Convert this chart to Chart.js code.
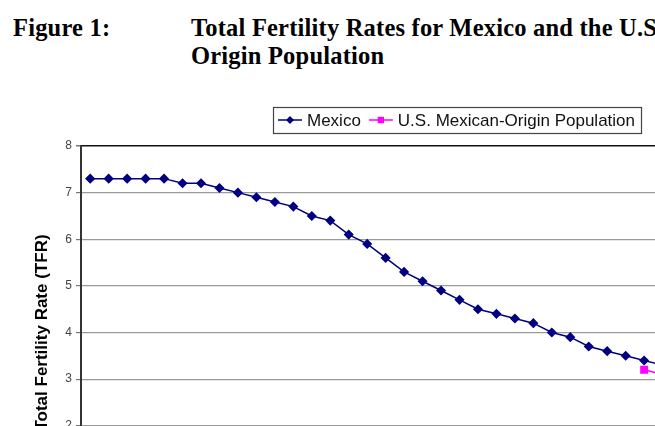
<!DOCTYPE html>
<html>
<head>
<meta charset="utf-8">
<script src="https://cdn.jsdelivr.net/npm/chart.js@4/dist/chart.umd.min.js"></script>
<style>
  html, body { margin: 0; padding: 0; background: #fff; }
  #page { position: relative; width: 655px; height: 426px; overflow: hidden; }
  .cap { position: absolute; white-space: nowrap; font-family: "Liberation Serif", "Times New Roman", serif;
         font-weight: bold; font-size: 24.5px; line-height: 28px; letter-spacing: 0.2px; color: #000; }
  #chart { position: absolute; left: 0; top: 0; }
</style>
</head>
<body>
<div id="page">
  <div class="cap" style="left:13px; top:14px;">Figure 1:</div>
  <div class="cap" style="left:191px; top:14px;">Total Fertility Rates for Mexico and the U.S. Mexican-<br>Origin Population</div>
  <canvas id="chart" width="850" height="560"></canvas>
</div>
<script>
// years on the category axis (the axis itself is below the visible crop)
const years = ['1960','1961','1962','1963','1964','1965','1966','1967','1968','1969',
  '1970','1971','1972','1973','1974','1975','1976','1977','1978','1979',
  '1980','1981','1982','1983','1984','1985','1986','1987','1988','1989',
  '1990','1991','1992','1993','1994','1995','1996','1997','1998','1999','2000'];

// Mexico TFR (last value estimated from the line leaving the crop)
const mexicoTfr = [7.3, 7.3, 7.3, 7.3, 7.3, 7.2, 7.2, 7.1, 7.0, 6.9,
  6.8, 6.7, 6.5, 6.4, 6.1, 5.9, 5.6, 5.3, 5.1, 4.9,
  4.7, 4.5, 4.4, 4.3, 4.2, 4.0, 3.9, 3.7, 3.6, 3.5,
  3.4, 3.3];

// U.S. Mexican-origin population TFR
const usYears = ['1990', '1991'];
const usTfr = [3.2, 3.1];

const yTicks = [0, 1, 2, 3, 4, 5, 6, 7, 8];

// legend drawn in the Excel style: framed box, line + marker swatches
const boxLegend = {
  id: 'boxLegend',
  afterDraw(chart) {
    const ctx = chart.ctx;
    const left = 273, top = 107, height = 26;
    const cy = top + height / 2;
    ctx.save();
    ctx.font = '17px "Liberation Sans", Arial, sans-serif';
    ctx.textBaseline = 'middle';
    let x = left + 5;
    const items = chart.data.datasets.map(ds => {
      const w = ctx.measureText(ds.label).width;
      return { ds, w };
    });
    let total = 5;
    items.forEach((it, i) => { total += 24 + 5 + it.w + (i < items.length - 1 ? 8 : 6); });
    ctx.fillStyle = '#fff';
    ctx.fillRect(left, top, total, height);
    ctx.strokeStyle = '#444';
    ctx.lineWidth = 1.2;
    ctx.strokeRect(left + 0.5, top + 0.5, total, height);
    items.forEach(it => {
      const ds = it.ds;
      ctx.strokeStyle = ds.borderColor;
      ctx.lineWidth = 1.5;
      ctx.beginPath();
      ctx.moveTo(x, cy);
      ctx.lineTo(x + 24, cy);
      ctx.stroke();
      ctx.fillStyle = ds.pointBackgroundColor;
      ctx.beginPath();
      if (ds.pointStyle === 'rect') {
        const s = ds.pointRadius * Math.SQRT1_2;
        ctx.rect(x + 12 - s, cy - s, 2 * s, 2 * s);
      } else {
        const r = ds.pointRadius;
        ctx.moveTo(x + 12 - r, cy); ctx.lineTo(x + 12, cy - r);
        ctx.lineTo(x + 12 + r, cy); ctx.lineTo(x + 12, cy + r); ctx.closePath();
      }
      ctx.fill();
      ctx.fillStyle = '#111';
      ctx.fillText(ds.label, x + 29, cy + 1);
      x += 24 + 5 + it.w + 8;
    });
    ctx.restore();
  }
};

new Chart(document.getElementById('chart'), {
  type: 'line',
  data: {
    labels: years,
    datasets: [{
      label: 'Mexico',
      data: mexicoTfr,
      borderColor: '#000080',
      backgroundColor: '#000080',
      pointBackgroundColor: '#000080',
      pointBorderColor: '#000080',
      borderWidth: 1.5,
      pointStyle: 'rectRot',
      pointRadius: 4,
      tension: 0
    }, {
      label: 'U.S. Mexican-Origin Population',
      data: usYears.map((y, i) => ({ x: y, y: usTfr[i] })),
      borderColor: '#FF00FF',
      backgroundColor: '#FF00FF',
      pointBackgroundColor: '#FF00FF',
      pointBorderColor: '#FF00FF',
      borderWidth: 1.5,
      pointStyle: 'rect',
      pointRadius: 4.5,
      tension: 0
    }]
  },
  options: {
    responsive: false,
    animation: false,
    devicePixelRatio: 1,
    layout: { padding: { top: 146, left: 0, right: 12, bottom: 0 } },
    plugins: { legend: { display: false }, tooltip: { enabled: false } },
    scales: {
      x: {
        offset: true,
        grid: { display: false },
        border: { color: '#333', width: 2 },
        ticks: { color: '#555', font: { size: 11 }, autoSkip: false, maxRotation: 90, minRotation: 90 },
        afterFit: s => { s.height = 41; }
      },
      y: {
        min: 0,
        max: 8,
        afterBuildTicks: s => { s.ticks = yTicks.map(v => ({ value: v })); },
        ticks: { color: '#444', padding: 4, font: { family: '"Liberation Sans", Arial, sans-serif', size: 12 } },
        grid: {
          color: c => (c.tick && c.tick.value === 8 ? '#111' : '#9a9a9a'),
          lineWidth: c => (c.tick && c.tick.value === 8 ? 1.5 : 1.2),
          tickColor: '#777',
          tickLength: 5
        },
        border: { color: '#333', width: 2 },
        title: {
          display: true,
          text: 'Total Fertility Rate (TFR)',
          color: '#000',
          font: { family: '"Liberation Sans", Arial, sans-serif', size: 17, weight: 'bold' },
          padding: { top: 32, bottom: 0 }
        },
        afterFit: s => { s.width = 81; }
      }
    }
  },
  plugins: [boxLegend]
});
</script>
</body>
</html>
